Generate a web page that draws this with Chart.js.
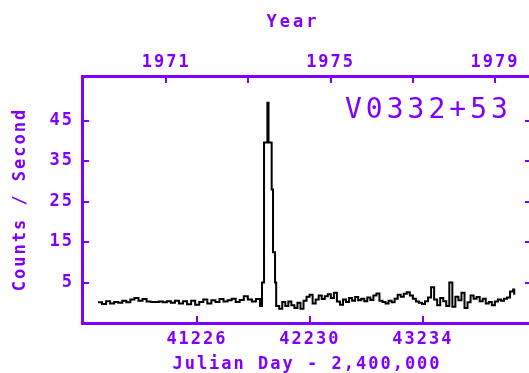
<!DOCTYPE html>
<html>
<head>
<meta charset="utf-8">
<script src="https://cdn.jsdelivr.net/npm/chart.js@4"></script>
<style>
  html, body { margin: 0; padding: 0; background: #fff; overflow: hidden; }
  #wrap { width: 540px; height: 373px; }
</style>
</head>
<body>
<div id="wrap"><canvas id="lc"></canvas></div>
<script>
// Vela 5B light curve of V0332+53, counts per second vs Julian Day - 2,400,000
const julianDay = [
  40346, 40382, 40418, 40454, 40490, 40526, 40562, 40598, 40634, 40670,
  40706, 40742, 40778, 40814, 40850, 40886, 40922, 40958, 40994, 41030,
  41066, 41102, 41138, 41174, 41210, 41246, 41282, 41318, 41354, 41390,
  41426, 41462, 41498, 41534, 41570, 41606, 41642, 41678, 41714, 41750,
  41786,
  41804, 41822, 41852, 41862, 41890, 41902, 41920,
  41930, 41957, 41984, 42011, 42038, 42065, 42092, 42119, 42146, 42173,
  42200, 42227, 42254, 42281, 42308, 42335, 42362, 42389, 42416, 42443,
  42470, 42497, 42524, 42551, 42578, 42605, 42632, 42659, 42686, 42713,
  42740, 42767, 42794, 42821, 42848, 42875, 42902, 42929, 42956, 42983,
  43010, 43037, 43064, 43091, 43118, 43145, 43172, 43199, 43226, 43253,
  43280, 43307, 43334, 43361, 43388, 43415, 43442, 43469, 43496, 43523,
  43550, 43577, 43604, 43631, 43658, 43685, 43712, 43739, 43766, 43793,
  43820, 43847, 43874, 43901, 43928, 43955, 43982, 44009, 44036, 44046
];
const countRate = [
  0.1, -0.3, 0.4, -0.2, 0.2, 0.0, 0.5, 0.1, 0.8, 1.2,
  0.5, 0.9, 0.3, 0.2, 0.2, 0.3, 0.1, 0.4, 0.0, 0.5,
  -0.2, 0.4, -0.4, 0.5, -0.5, 0.2, 0.8, -0.2, 0.6, 0.2,
  0.9, 0.3, 0.6, 1.0, 0.2, 0.7, 1.6, 0.8, 0.3, 0.9,
  -0.8,
  5.0, 39.6, 49.4, 39.6, 28.0, 12.5, 5.0,
  -0.8, -1.5, 0.2, -0.8, 0.3, -0.6, -1.3, 0.0, -1.5, 0.5,
  1.5, 2.0, -0.2, 0.8, 1.8, 0.9, 1.6, 2.1, 1.2, 2.5,
  0.3, -0.5, 0.8, 0.2, 1.2, 0.5, 1.4, 0.6, 1.0, 0.4,
  1.3, 0.7, 1.8, 2.3, 0.5, 0.2, -0.2, 0.5, 0.1, 1.0,
  2.0, 1.5, 2.2, 2.6, 1.8, 1.0, 0.3, 0.0, -0.3, 0.4,
  1.3, 3.8, 0.8, -0.6, 1.2, 0.4, -0.8, 5.0, -1.0, 1.5,
  0.6, 2.5, -1.3, 0.1, 1.8, 1.0, 1.4, 0.4, 1.0, -0.2,
  0.2, -0.6, 0.3, 0.8, 0.5, 1.0, 1.3, 2.8, 3.3, 2.0
];

const dayTicks = [41226, 42230, 43234];
const yearTicks = [1971, 1973, 1975, 1977, 1979];
const yearLabels = ['1971', '', '1975', '', '1979'];
const countTicks = [5, 15, 25, 35, 45];

const sourceName = 'V0332+53';
const PURPLE = '#8000ff';

const dayMin = 40204, dayMax = 44204;
const yearFromDay = d => 1970 + (d - 40587.5) / 365.25;

const monoBold = "'DejaVu Sans Mono', monospace";

// ticks drawn pointing into the frame, plus the source label
const frameExtras = {
    id: 'frameExtras',
    beforeUpdate(chart) { chart.ctx.letterSpacing = '2px'; },
    beforeDraw(chart) { chart.ctx.letterSpacing = '2px'; },
    afterDraw(chart) {
        const { ctx, chartArea: a, scales } = chart;
        ctx.save();
        ctx.strokeStyle = PURPLE;
        ctx.lineWidth = 2;
        ctx.beginPath();
        scales.x.ticks.forEach(t => {
            const px = Math.round(scales.x.getPixelForValue(t.value));
            ctx.moveTo(px, a.bottom); ctx.lineTo(px, a.bottom - 7);
        });
        scales.x2.ticks.forEach(t => {
            const px = Math.round(scales.x2.getPixelForValue(t.value));
            ctx.moveTo(px, a.top); ctx.lineTo(px, a.top + 7);
        });
        scales.y.ticks.forEach(t => {
            const py = Math.round(scales.y.getPixelForValue(t.value));
            ctx.moveTo(a.left, py); ctx.lineTo(a.left + 7, py);
            ctx.moveTo(a.right, py); ctx.lineTo(a.right - 7, py);
        });
        ctx.stroke();

        // "Year" title sits a bit left of centre in the original
        ctx.letterSpacing = '3px';
        ctx.font = "bold 17px " + monoBold;
        ctx.fillStyle = PURPLE;
        ctx.textAlign = 'center';
        ctx.textBaseline = 'middle';
        ctx.fillText('Year', 293, 23);

        ctx.letterSpacing = '4px';
        ctx.font = "28px " + monoBold;
        ctx.textAlign = 'left';
        ctx.textBaseline = 'alphabetic';
        ctx.fillText(sourceName, a.right - 187, 118);
        ctx.restore();
    }
};

Chart.defaults.font.family = monoBold;
Chart.defaults.font.size = 17;
Chart.defaults.font.weight = 'bold';
Chart.defaults.color = PURPLE;

new Chart(document.getElementById('lc'), {
    type: 'line',
    data: {
        datasets: [{
            data: julianDay.map((d, i) => ({ x: d, y: countRate[i] })),
            borderColor: '#000',
            borderWidth: 2,
            pointRadius: 0,
            stepped: 'before',
            fill: false
        }]
    },
    options: {
        responsive: true,
        maintainAspectRatio: false,
        devicePixelRatio: 1,
        animation: false,
        layout: { padding: { left: 0, right: 8, top: 0, bottom: 0 } },
        plugins: { legend: { display: false }, tooltip: { enabled: false } },
        scales: {
            x: {
                type: 'linear',
                position: 'bottom',
                min: dayMin,
                max: dayMax,
                afterBuildTicks: s => { s.ticks = dayTicks.map(v => ({ value: v })); },
                afterFit: s => { s.height = 50; },
                ticks: { color: PURPLE, padding: 6, maxRotation: 0, callback: v => String(v) },
                grid: { display: false, drawTicks: false },
                border: { display: true, color: PURPLE, width: 3 },
                title: {
                    display: true, text: 'Julian Day - 2,400,000', color: PURPLE,
                    font: { lineHeight: 1.0 },
                    padding: { top: 0, bottom: 0 }
                }
            },
            x2: {
                type: 'linear',
                position: 'top',
                min: yearFromDay(dayMin),
                max: yearFromDay(dayMax),
                afterBuildTicks: s => { s.ticks = yearTicks.map(v => ({ value: v })); },
                afterFit: s => { s.height = 76; },
                ticks: {
                    color: PURPLE, padding: 3, maxRotation: 0,
                    callback: (v, i) => yearLabels[i]
                },
                grid: { display: false, drawTicks: false },
                border: { display: true, color: PURPLE, width: 3 }
            },
            y: {
                type: 'linear',
                position: 'left',
                min: -5,
                max: 56,
                afterBuildTicks: s => { s.ticks = countTicks.map(v => ({ value: v })); },
                afterFit: s => { s.width = 82; },
                ticks: { color: PURPLE, padding: 8 },
                grid: { display: false, drawTicks: false },
                border: { display: true, color: PURPLE, width: 3 },
                title: {
                    display: true, text: 'Counts / Second', color: PURPLE,
                    padding: { top: 10, bottom: 0 }
                }
            }
        }
    },
    plugins: [frameExtras]
});
</script>
</body>
</html>
